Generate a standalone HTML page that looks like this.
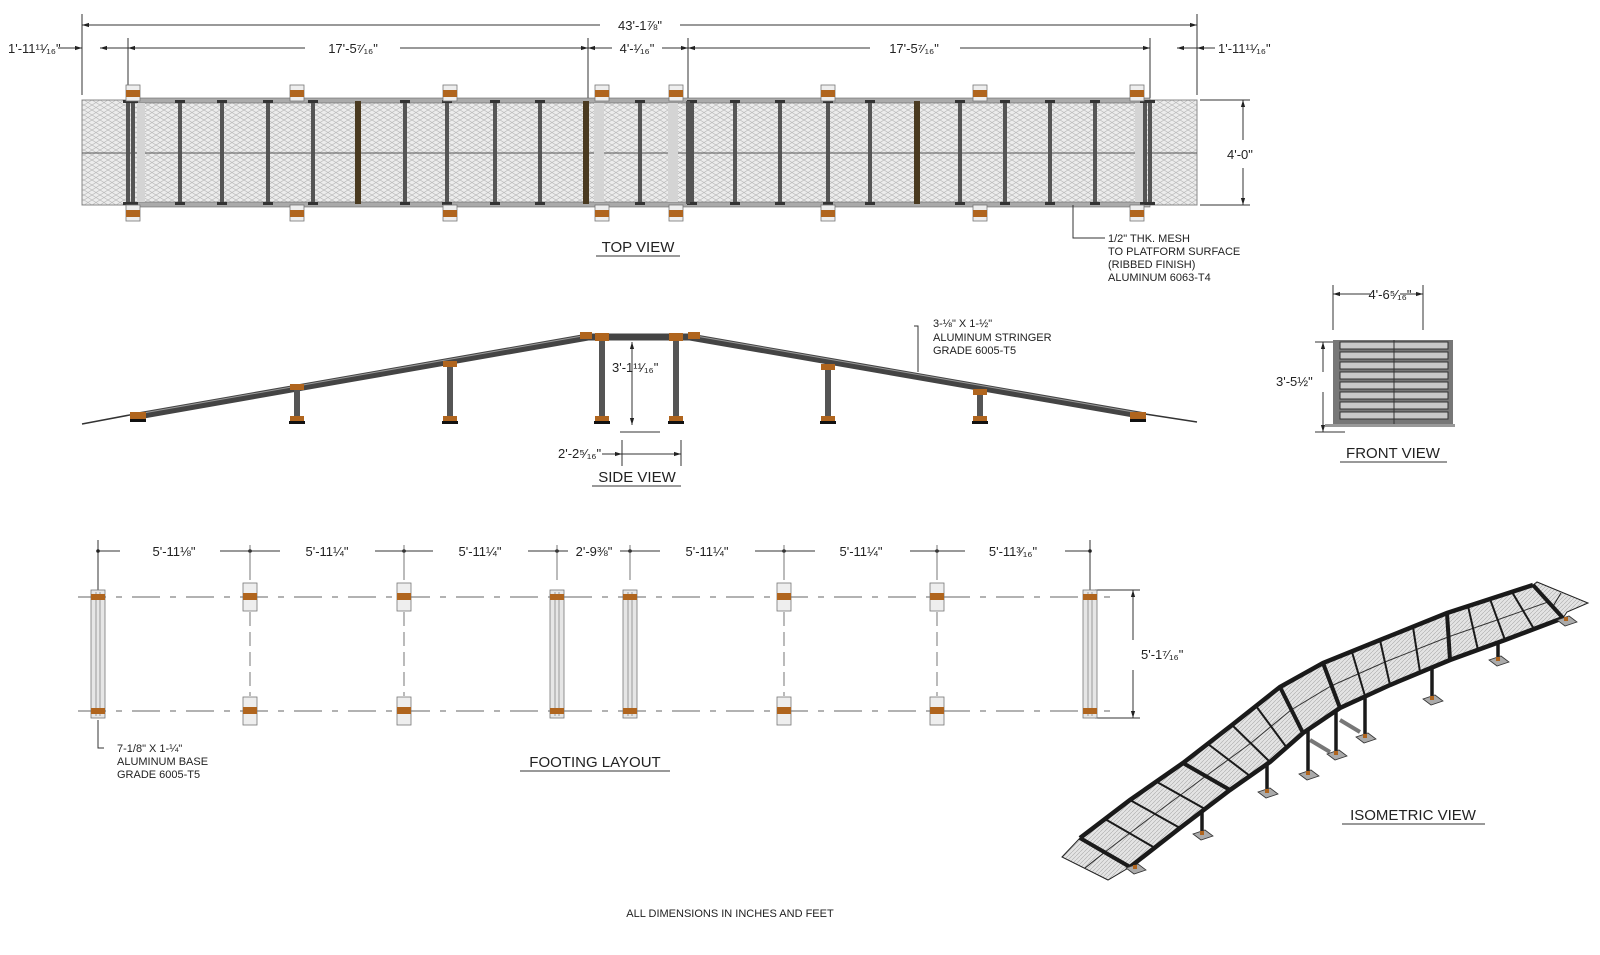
<!DOCTYPE html>
<html><head><meta charset="utf-8"><style>
html,body{margin:0;padding:0;background:#fff}
svg{display:block}
text{font-family:"Liberation Sans",sans-serif;fill:#222}
</style></head><body>
<svg width="1600" height="955" viewBox="0 0 1600 955" xmlns="http://www.w3.org/2000/svg">
<defs>
<pattern id="mesh" width="8" height="5" patternUnits="userSpaceOnUse">
<rect width="8" height="5" fill="#ececec"/>
<path d="M0 2.5 L4 0 L8 2.5 L4 5 Z" fill="none" stroke="#b8b8b8" stroke-width="0.7"/>
</pattern>
<pattern id="mesh2" width="4" height="4" patternUnits="userSpaceOnUse">
<rect width="4" height="4" fill="#e4e4e4"/>
<path d="M0 4 L4 0" stroke="#aaa" stroke-width="0.6"/>
</pattern>
<marker id="ar" viewBox="0 0 10 10" refX="10" refY="5" markerWidth="7" markerHeight="7" orient="auto-start-reverse"><path d="M0 2 L10 5 L0 8 Z" fill="#222"/></marker>
<g id="pad"><rect x="-7" y="-8" width="14" height="16" fill="#eee" stroke="#777" stroke-width="0.8"/><rect x="-7" y="-3" width="14" height="7" fill="#b0651e"/></g>
<g id="bar"><rect x="-2" y="0" width="4" height="105" fill="#555"/><rect x="-5" y="0" width="10" height="3" fill="#333"/><rect x="-5" y="102" width="10" height="3" fill="#333"/></g>
<g id="fsm"><rect x="-7" y="-14" width="14" height="28" fill="#eee" stroke="#777" stroke-width="0.8"/><rect x="-7" y="-4" width="14" height="7" fill="#b0651e"/></g>
<g id="fbig"><rect x="-7" y="0" width="14" height="128" fill="#e6e6e6" stroke="#777" stroke-width="0.8"/><line x1="-2" y1="2" x2="-2" y2="126" stroke="#999"/><line x1="2" y1="2" x2="2" y2="126" stroke="#999"/><rect x="-7" y="4" width="14" height="6" fill="#b0651e"/><rect x="-7" y="118" width="14" height="6" fill="#b0651e"/></g>
<g id="foot"><polygon points="-9,0 3,-4 11,2 -1,6" fill="#aaa" stroke="#333" stroke-width="0.8"/><rect x="-2" y="-3" width="4" height="4" fill="#b0651e"/></g>
</defs>

<!-- TOP VIEW dims -->
<g stroke="#333" stroke-width="1" fill="none">
<line x1="82" y1="14" x2="82" y2="95"/><line x1="1197" y1="14" x2="1197" y2="95"/>
<line x1="82" y1="25" x2="600" y2="25" marker-start="url(#ar)"/><line x1="680" y1="25" x2="1197" y2="25" marker-end="url(#ar)"/>
<line x1="128" y1="38" x2="128" y2="98"/><line x1="588" y1="38" x2="588" y2="98"/><line x1="688" y1="38" x2="688" y2="98"/><line x1="1150" y1="38" x2="1150" y2="98"/>
<line x1="58" y1="48" x2="82" y2="48" marker-end="url(#ar)"/><line x1="100" y1="48" x2="128" y2="48" marker-start="url(#ar)"/>
<line x1="128" y1="48" x2="305" y2="48" marker-start="url(#ar)"/><line x1="400" y1="48" x2="588" y2="48" marker-end="url(#ar)"/>
<line x1="588" y1="48" x2="612" y2="48" marker-start="url(#ar)"/><line x1="662" y1="48" x2="688" y2="48" marker-end="url(#ar)"/>
<line x1="688" y1="48" x2="870" y2="48" marker-start="url(#ar)"/><line x1="960" y1="48" x2="1150" y2="48" marker-end="url(#ar)"/>
<line x1="1150" y1="48" x2="1170" y2="48" marker-end="url(#ar)" transform="rotate(180 1173.5 48)"/><line x1="1197" y1="48" x2="1215" y2="48" marker-start="url(#ar)"/>
<line x1="1200" y1="100" x2="1250" y2="100"/><line x1="1200" y1="205" x2="1250" y2="205"/>
<line x1="1243" y1="100" x2="1243" y2="140" marker-start="url(#ar)"/><line x1="1243" y1="168" x2="1243" y2="205" marker-end="url(#ar)"/>
</g>
<text x="640" y="30" font-size="13" text-anchor="middle">43'-1⅞"</text>
<text x="8" y="53" font-size="13">1'-11¹¹⁄₁₆"</text>
<text x="353" y="53" font-size="13" text-anchor="middle">17'-5⁷⁄₁₆"</text>
<text x="637" y="53" font-size="13" text-anchor="middle">4'-¹⁄₁₆"</text>
<text x="914" y="53" font-size="13" text-anchor="middle">17'-5⁷⁄₁₆"</text>
<text x="1218" y="53" font-size="13">1'-11¹¹⁄₁₆"</text>
<text x="1227" y="159" font-size="13">4'-0"</text>

<!-- TOP VIEW deck -->
<rect x="82" y="100" width="1115" height="105" fill="url(#mesh)" stroke="#888"/>
<line x1="82" y1="153" x2="1197" y2="153" stroke="#555" stroke-width="1"/>
<rect x="128" y="98" width="1022" height="5" fill="#aaa" stroke="#666" stroke-width="0.6"/>
<rect x="128" y="202" width="1022" height="5" fill="#aaa" stroke="#666" stroke-width="0.6"/>
<rect x="594" y="103" width="10" height="99" fill="#d4d4d4"/><rect x="668" y="103" width="10" height="99" fill="#d4d4d4"/>
<rect x="137" y="103" width="8" height="99" fill="#d4d4d4"/><rect x="1135" y="103" width="8" height="99" fill="#d4d4d4"/>
<g>
<use href="#bar" x="128" y="100"/><use href="#bar" x="133" y="100"/><use href="#bar" x="180" y="100"/><use href="#bar" x="222" y="100"/><use href="#bar" x="268" y="100"/><use href="#bar" x="313" y="100"/>
<use href="#bar" x="405" y="100"/><use href="#bar" x="447" y="100"/><use href="#bar" x="495" y="100"/><use href="#bar" x="540" y="100"/><use href="#bar" x="640" y="100"/><use href="#bar" x="692" y="100"/>
<use href="#bar" x="735" y="100"/><use href="#bar" x="780" y="100"/><use href="#bar" x="828" y="100"/><use href="#bar" x="870" y="100"/><use href="#bar" x="960" y="100"/><use href="#bar" x="1005" y="100"/><use href="#bar" x="1050" y="100"/><use href="#bar" x="1095" y="100"/><use href="#bar" x="1145" y="100"/><use href="#bar" x="1150" y="100"/>
</g>
<rect x="355" y="101" width="6" height="103" fill="#4a3a20"/><rect x="583" y="101" width="6" height="103" fill="#4a3a20"/><rect x="914" y="101" width="6" height="103" fill="#4a3a20"/><rect x="686" y="101" width="4" height="103" fill="#555"/>
<g>
<use href="#pad" x="133" y="93"/><use href="#pad" x="297" y="93"/><use href="#pad" x="450" y="93"/><use href="#pad" x="602" y="93"/><use href="#pad" x="676" y="93"/><use href="#pad" x="828" y="93"/><use href="#pad" x="980" y="93"/><use href="#pad" x="1137" y="93"/>
<use href="#pad" x="133" y="213"/><use href="#pad" x="297" y="213"/><use href="#pad" x="450" y="213"/><use href="#pad" x="602" y="213"/><use href="#pad" x="676" y="213"/><use href="#pad" x="828" y="213"/><use href="#pad" x="980" y="213"/><use href="#pad" x="1137" y="213"/>
</g>
<polyline points="1073,205 1073,238 1105,238" fill="none" stroke="#333"/>
<text font-size="11"><tspan x="1108" y="242">1/2" THK. MESH</tspan><tspan x="1108" y="255">TO PLATFORM SURFACE</tspan><tspan x="1108" y="268">(RIBBED FINISH)</tspan><tspan x="1108" y="281">ALUMINUM 6063-T4</tspan></text>
<text x="638" y="252" font-size="15" text-anchor="middle">TOP VIEW</text>
<line x1="596" y1="256" x2="680" y2="256" stroke="#333"/>

<!-- SIDE VIEW -->
<g stroke="#333" stroke-linecap="butt">
<line x1="82" y1="424" x2="135" y2="414" stroke-width="1.5"/>
<line x1="1145" y1="414" x2="1197" y2="422" stroke-width="1.5"/>
<line x1="132" y1="417" x2="588" y2="337" stroke-width="7" stroke="#444"/>
<line x1="588" y1="337" x2="690" y2="337" stroke-width="7" stroke="#444"/>
<line x1="690" y1="337" x2="1145" y2="416" stroke-width="7" stroke="#444"/>
</g>
<line x1="132" y1="415" x2="588" y2="335" stroke="#999" stroke-width="1"/><line x1="690" y1="335" x2="1145" y2="414" stroke="#999" stroke-width="1"/>
<g fill="#555">
<rect x="294" y="388" width="6" height="32"/><rect x="447" y="365" width="6" height="55"/><rect x="599" y="340" width="6" height="80"/><rect x="673" y="340" width="6" height="80"/><rect x="825" y="367" width="6" height="53"/><rect x="977" y="393" width="6" height="27"/>
</g>
<g fill="#b0651e">
<rect x="290" y="384" width="14" height="6"/><rect x="443" y="361" width="14" height="6"/><rect x="595" y="333" width="14" height="8"/><rect x="669" y="333" width="14" height="8"/><rect x="821" y="364" width="14" height="6"/><rect x="973" y="389" width="14" height="6"/>
<rect x="290" y="416" width="14" height="6"/><rect x="443" y="416" width="14" height="6"/><rect x="595" y="416" width="14" height="6"/><rect x="669" y="416" width="14" height="6"/><rect x="821" y="416" width="14" height="6"/><rect x="973" y="416" width="14" height="6"/>
<rect x="130" y="412" width="16" height="7"/><rect x="1130" y="412" width="16" height="7"/><rect x="580" y="332" width="12" height="7"/><rect x="688" y="332" width="12" height="7"/>
</g>
<g fill="#111"><rect x="289" y="421" width="16" height="3"/><rect x="442" y="421" width="16" height="3"/><rect x="594" y="421" width="16" height="3"/><rect x="668" y="421" width="16" height="3"/><rect x="820" y="421" width="16" height="3"/><rect x="972" y="421" width="16" height="3"/><rect x="130" y="419" width="16" height="3"/><rect x="1130" y="419" width="16" height="3"/></g>
<g stroke="#333" fill="none">
<line x1="632" y1="342" x2="632" y2="425" marker-start="url(#ar)" marker-end="url(#ar)"/><line x1="620" y1="432" x2="660" y2="432"/>
<line x1="622" y1="440" x2="622" y2="466"/><line x1="681" y1="440" x2="681" y2="466"/>
<line x1="602" y1="454" x2="622" y2="454" marker-end="url(#ar)"/><line x1="622" y1="454" x2="681" y2="454" marker-end="url(#ar)"/>
<polyline points="918,372 918,326 914,326"/>
</g>
<text x="612" y="372" font-size="13">3'-1¹¹⁄₁₆"</text>
<text x="558" y="458" font-size="13">2'-2⁵⁄₁₆"</text>
<text font-size="11"><tspan x="933" y="327">3-⅛" X 1-½"</tspan><tspan x="933" y="341">ALUMINUM STRINGER</tspan><tspan x="933" y="354">GRADE 6005-T5</tspan></text>
<text x="637" y="482" font-size="15" text-anchor="middle">SIDE VIEW</text>
<line x1="592" y1="486" x2="681" y2="486" stroke="#333"/>

<!-- FRONT VIEW -->
<g stroke="#333" fill="none">
<line x1="1333" y1="285" x2="1333" y2="330"/><line x1="1423" y1="285" x2="1423" y2="330"/>
<line x1="1333" y1="294" x2="1370" y2="294" marker-start="url(#ar)"/><line x1="1400" y1="294" x2="1423" y2="294" marker-end="url(#ar)"/>
<line x1="1315" y1="342" x2="1345" y2="342"/><line x1="1315" y1="432" x2="1345" y2="432"/>
<line x1="1323" y1="342" x2="1323" y2="372" marker-start="url(#ar)"/><line x1="1323" y1="392" x2="1323" y2="432" marker-end="url(#ar)"/>
</g>
<text x="1390" y="299" font-size="13" text-anchor="middle">4'-6⁵⁄₁₆"</text>
<text x="1276" y="386" font-size="13">3'-5½"</text>
<rect x="1333" y="340" width="120" height="86" fill="#777"/>
<g fill="#c8c8c8" stroke="#333" stroke-width="1">
<rect x="1340" y="342" width="108" height="7"/><rect x="1340" y="352" width="108" height="7"/><rect x="1340" y="362" width="108" height="7"/><rect x="1340" y="372" width="108" height="7"/><rect x="1340" y="382" width="108" height="7"/><rect x="1340" y="392" width="108" height="7"/><rect x="1340" y="402" width="108" height="7"/><rect x="1340" y="412" width="108" height="7"/>
</g>
<line x1="1394" y1="340" x2="1394" y2="426" stroke="#333"/>
<rect x="1325" y="424" width="130" height="3" fill="#999"/>
<text x="1393" y="458" font-size="15" text-anchor="middle">FRONT VIEW</text>
<line x1="1340" y1="462" x2="1447" y2="462" stroke="#333"/>

<!-- FOOTING LAYOUT -->
<g stroke="#333" fill="none">
<line x1="98" y1="540" x2="98" y2="590"/><line x1="1090" y1="540" x2="1090" y2="590"/>
<line x1="98" y1="551" x2="1090" y2="551"/>
<line x1="78" y1="597" x2="1110" y2="597" stroke="#666" stroke-dasharray="28,10,6,10"/>
<line x1="78" y1="711" x2="1110" y2="711" stroke="#666" stroke-dasharray="28,10,6,10"/>
<line x1="1095" y1="590" x2="1140" y2="590"/><line x1="1095" y1="718" x2="1140" y2="718"/>
<line x1="1133" y1="590" x2="1133" y2="640" marker-start="url(#ar)"/><line x1="1133" y1="670" x2="1133" y2="718" marker-end="url(#ar)"/>
<polyline points="98,720 98,748 104,748"/>
</g>
<g fill="#222"><circle cx="98" cy="551" r="1.8"/><circle cx="250" cy="551" r="1.8"/><circle cx="404" cy="551" r="1.8"/><circle cx="557" cy="551" r="1.8"/><circle cx="630" cy="551" r="1.8"/><circle cx="784" cy="551" r="1.8"/><circle cx="937" cy="551" r="1.8"/><circle cx="1090" cy="551" r="1.8"/></g>
<g stroke="#555" stroke-width="0.8"><line x1="250" y1="545" x2="250" y2="580"/><line x1="404" y1="545" x2="404" y2="580"/><line x1="557" y1="545" x2="557" y2="580"/><line x1="630" y1="545" x2="630" y2="580"/><line x1="784" y1="545" x2="784" y2="580"/><line x1="937" y1="545" x2="937" y2="580"/>
<line x1="250" y1="612" x2="250" y2="696" stroke-dasharray="14,6"/><line x1="404" y1="612" x2="404" y2="696" stroke-dasharray="14,6"/><line x1="784" y1="612" x2="784" y2="696" stroke-dasharray="14,6"/><line x1="937" y1="612" x2="937" y2="696" stroke-dasharray="14,6"/></g>
<g font-size="13" text-anchor="middle">
<rect x="120" y="543" width="100" height="16" fill="#fff"/><text x="174" y="556">5'-11⅛"</text>
<rect x="280" y="543" width="95" height="16" fill="#fff"/><text x="327" y="556">5'-11¼"</text>
<rect x="433" y="543" width="95" height="16" fill="#fff"/><text x="480" y="556">5'-11¼"</text>
<rect x="568" y="543" width="52" height="16" fill="#fff"/><text x="594" y="556">2'-9⅜"</text>
<rect x="660" y="543" width="95" height="16" fill="#fff"/><text x="707" y="556">5'-11¼"</text>
<rect x="815" y="543" width="95" height="16" fill="#fff"/><text x="861" y="556">5'-11¼"</text>
<rect x="965" y="543" width="100" height="16" fill="#fff"/><text x="1013" y="556">5'-11³⁄₁₆"</text>
</g>
<use href="#fbig" x="98" y="590"/><use href="#fbig" x="557" y="590"/><use href="#fbig" x="630" y="590"/><use href="#fbig" x="1090" y="590"/>
<use href="#fsm" x="250" y="597"/><use href="#fsm" x="404" y="597"/><use href="#fsm" x="784" y="597"/><use href="#fsm" x="937" y="597"/>
<use href="#fsm" x="250" y="711"/><use href="#fsm" x="404" y="711"/><use href="#fsm" x="784" y="711"/><use href="#fsm" x="937" y="711"/>
<text x="1141" y="659" font-size="13">5'-1⁷⁄₁₆"</text>
<text font-size="11"><tspan x="117" y="752">7-1/8" X 1-¼"</tspan><tspan x="117" y="765">ALUMINUM BASE</tspan><tspan x="117" y="778">GRADE 6005-T5</tspan></text>
<text x="595" y="767" font-size="15" text-anchor="middle">FOOTING LAYOUT</text>
<line x1="520" y1="771" x2="670" y2="771" stroke="#333"/>

<!-- ISOMETRIC -->
<!-- far legs (behind deck) -->
<g stroke="#333" stroke-width="3">
<line x1="1297" y1="690" x2="1297" y2="730"/><line x1="1270" y1="705" x2="1270" y2="720"/>
<line x1="1310" y1="740" x2="1330" y2="752" stroke="#777" stroke-width="4"/>
<line x1="1340" y1="720" x2="1360" y2="732" stroke="#777" stroke-width="4"/>
</g>
<!-- deck -->
<polygon points="1062,857 1080,838 1130,867 1108,880" fill="url(#mesh2)" stroke="#222" stroke-width="1"/>
<polygon points="1533,585 1537,582 1588,603 1567,612 1563,618" fill="url(#mesh2)" stroke="#222" stroke-width="1"/>
<line x1="1085" y1="868" x2="1105" y2="852" stroke="#222"/><line x1="1552" y1="608" x2="1561" y2="593" stroke="#222"/>
<polygon points="1080,838 1130,800 1183,763 1232,725 1280,687 1323,663 1380,640 1447,613 1490,599 1533,585 1563,618 1505,640 1450,660 1390,685 1340,708 1303,733 1270,762 1230,790 1180,828 1130,867" fill="url(#mesh2)"/>
<polyline points="1105,852 1155,814 1206,776 1251,743 1291,710 1331,686 1385,662 1448,637 1497,620 1548,602" fill="none" stroke="#333" stroke-width="1"/>
<g stroke="#1a1a1a" stroke-width="2">
<line x1="1080" y1="838" x2="1130" y2="867" stroke-width="4"/>
<line x1="1105" y1="819" x2="1155" y2="848"/>
<line x1="1130" y1="800" x2="1180" y2="828"/>
<line x1="1157" y1="782" x2="1205" y2="809"/>
<line x1="1183" y1="763" x2="1230" y2="790" stroke-width="4"/>
<line x1="1208" y1="744" x2="1250" y2="776"/>
<line x1="1232" y1="725" x2="1270" y2="762"/>
<line x1="1256" y1="706" x2="1287" y2="748"/>
<line x1="1280" y1="687" x2="1303" y2="733" stroke-width="4"/>
<line x1="1323" y1="663" x2="1340" y2="708" stroke-width="4"/>
<line x1="1352" y1="652" x2="1365" y2="696"/>
<line x1="1380" y1="640" x2="1390" y2="685"/>
<line x1="1413" y1="627" x2="1420" y2="672"/>
<line x1="1447" y1="613" x2="1450" y2="660" stroke-width="4"/>
<line x1="1468" y1="606" x2="1478" y2="650"/>
<line x1="1490" y1="599" x2="1505" y2="640"/>
<line x1="1512" y1="592" x2="1534" y2="629"/>
<line x1="1533" y1="585" x2="1563" y2="618" stroke-width="4"/>
</g>
<polyline points="1080,838 1130,800 1183,763 1232,725 1280,687 1323,663 1380,640 1447,613 1490,599 1533,585" fill="none" stroke="#1a1a1a" stroke-width="4.5"/>
<polyline points="1130,867 1180,828 1230,790 1270,762 1303,733 1340,708 1390,685 1450,660 1505,640 1563,618" fill="none" stroke="#1a1a1a" stroke-width="4.5"/>
<!-- near legs -->
<g stroke="#1a1a1a" stroke-width="3.5">
<line x1="1202" y1="811" x2="1202" y2="832"/><line x1="1267" y1="765" x2="1267" y2="790"/><line x1="1308" y1="731" x2="1308" y2="772"/><line x1="1336" y1="711" x2="1336" y2="752"/><line x1="1365" y1="697" x2="1365" y2="735"/><line x1="1432" y1="667" x2="1432" y2="697"/><line x1="1498" y1="643" x2="1498" y2="658"/>
</g>
<use href="#foot" x="1202" y="834"/><use href="#foot" x="1267" y="792"/><use href="#foot" x="1308" y="774"/><use href="#foot" x="1336" y="754"/><use href="#foot" x="1365" y="737"/><use href="#foot" x="1432" y="699"/><use href="#foot" x="1498" y="660"/><use href="#foot" x="1566" y="620"/><use href="#foot" x="1135" y="868"/>
<text x="1413" y="820" font-size="15" text-anchor="middle">ISOMETRIC VIEW</text>
<line x1="1342" y1="824" x2="1485" y2="824" stroke="#333"/>

<text x="730" y="917" font-size="11" text-anchor="middle">ALL DIMENSIONS IN INCHES AND FEET</text>
</svg>
</body></html>
